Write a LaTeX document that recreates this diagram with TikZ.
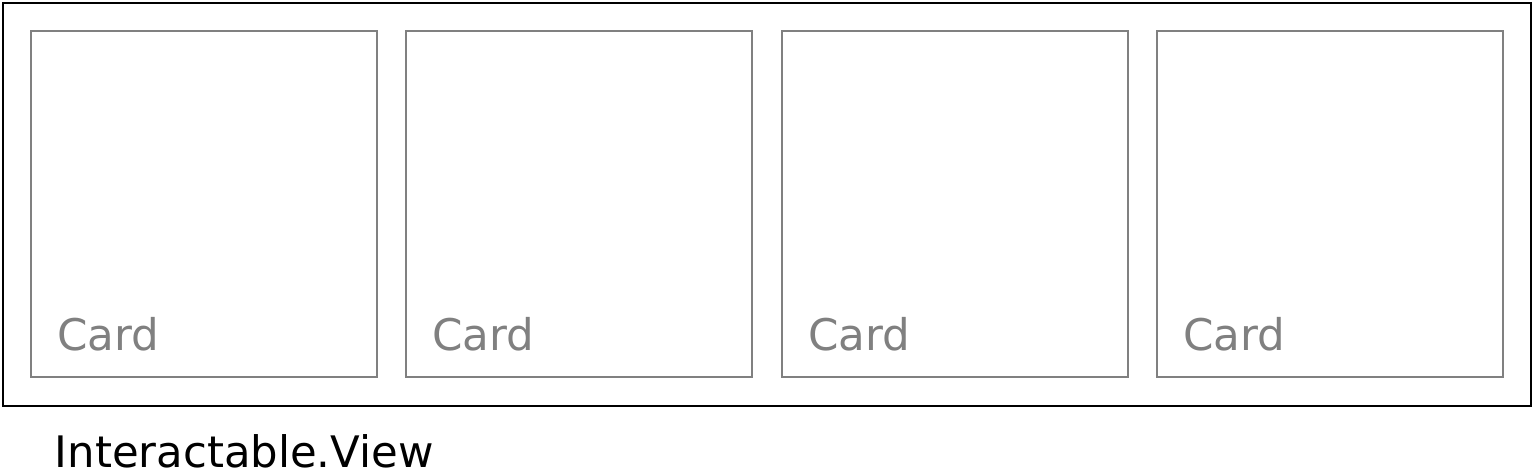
\documentclass[tikz,border=0pt]{standalone}
\usepackage{fontspec}
\setmainfont{DejaVu Sans}
\definecolor{cardgray}{HTML}{808080}
\begin{document}
\begin{tikzpicture}[x=1pt,y=-1pt,
  cardbox/.style={draw=cardgray,line width=2pt},
  cardlabel/.style={anchor=base west,inner sep=0pt,text=cardgray,font=\fontsize{43.6}{50}\selectfont},
  viewbox/.style={draw=black,line width=2pt}]
\useasboundingbox (0,0) rectangle (1534,469);
\draw[viewbox] (3,3) rectangle (1531,406);
\foreach \i/\x in {1/31,2/406,3/782,4/1157}{
  \draw[cardbox] (\x,31) rectangle ++(346,346);
  \node[cardlabel] (card\i) at (\x+26,350) {Card};
}
\node[anchor=base west,inner sep=0pt,font=\fontsize{43.4}{50}\selectfont] (view) at (54.5,467) {Interactable.View};
\end{tikzpicture}
\end{document}
